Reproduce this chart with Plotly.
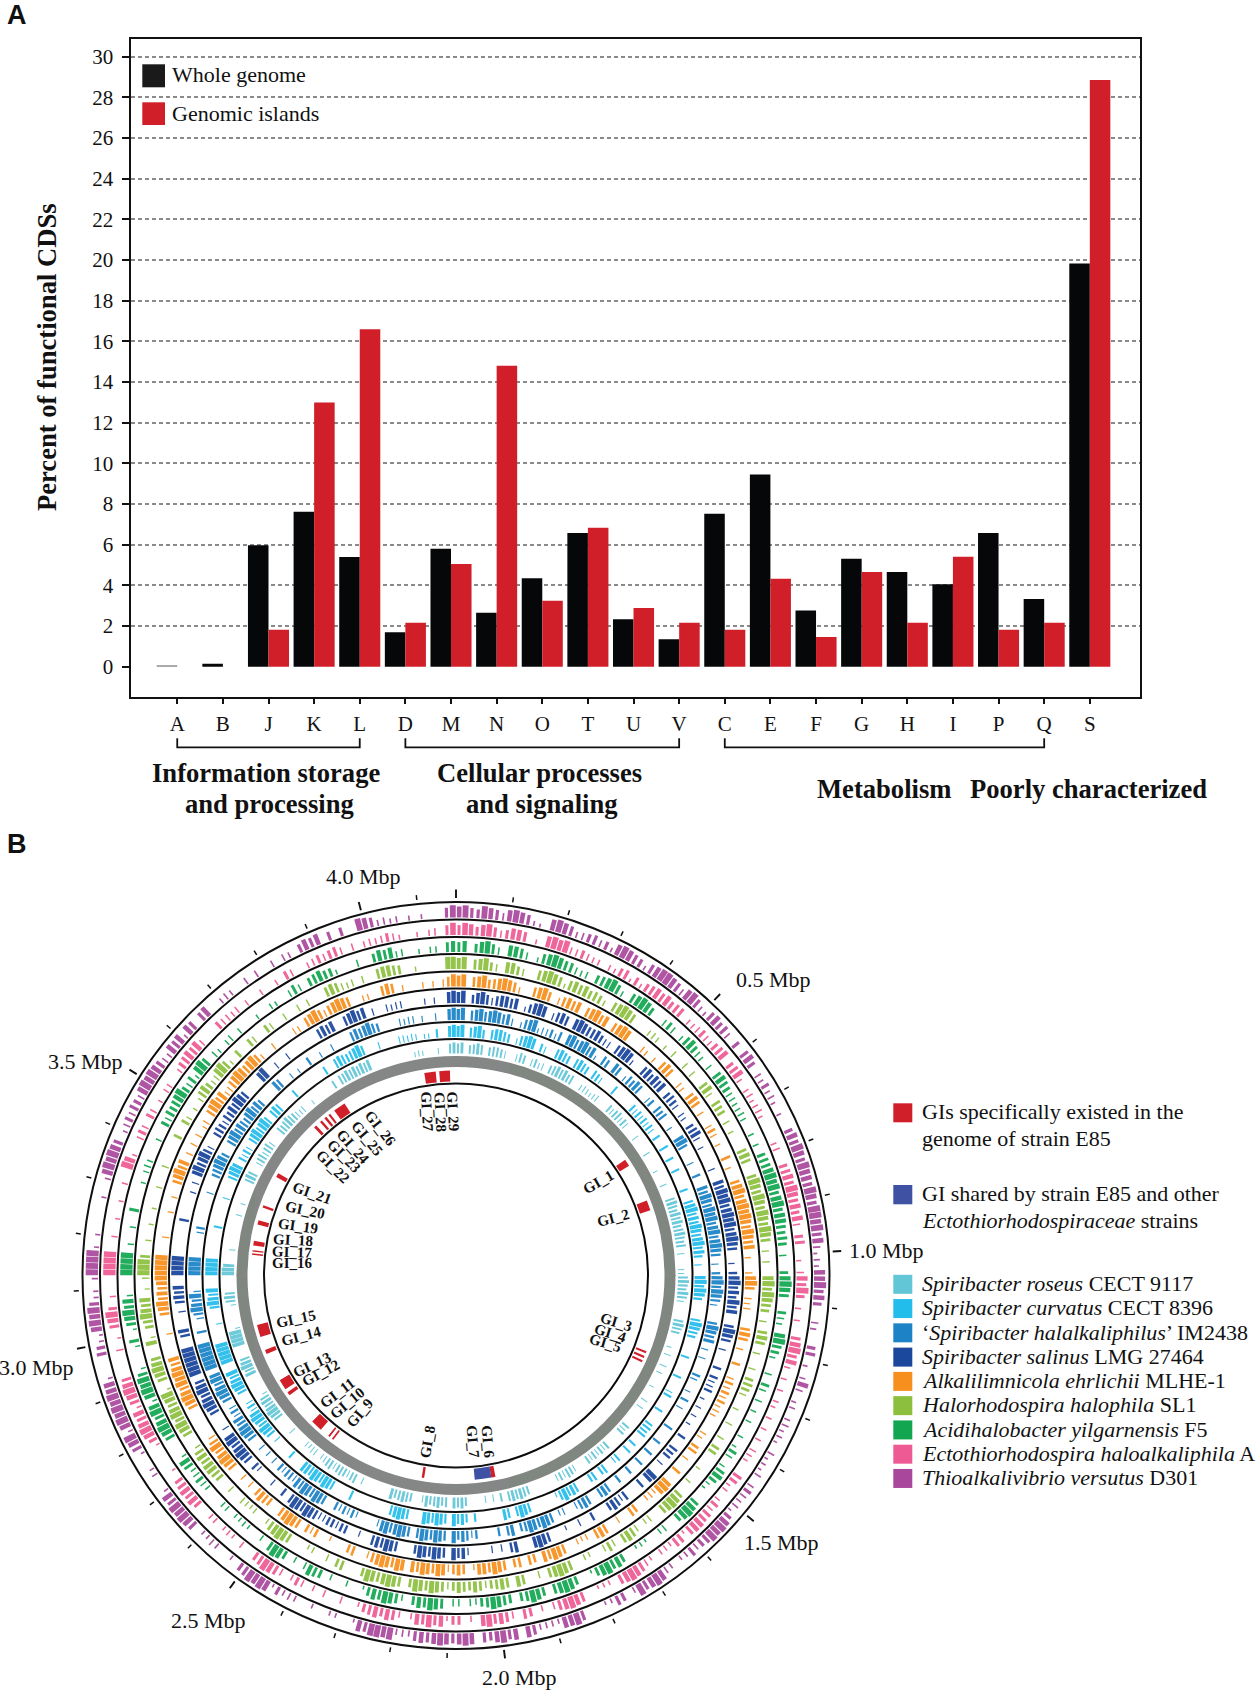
import plotly.graph_objects as go

W, H = 1256, 1693
SERIF = "Liberation Serif"

# ---------- panel A data ----------
COG = ["A","B","J","K","L","D","M","N","O","T","U","V","C","E","F","G","H","I","P","Q","S"]
WHOLE = [0.05,0.15,5.98,7.62,5.39,1.69,5.8,2.65,4.35,6.58,2.34,1.35,7.52,9.45,2.76,5.31,4.66,4.06,6.58,3.33,19.83]
ISLANDS = [0,0,1.82,13.0,16.6,2.16,5.05,14.8,3.25,6.84,2.89,2.16,1.82,4.32,1.46,4.66,2.16,5.41,1.82,2.16,28.86]
Y_TICKS = list(range(0, 31, 2))

# ---------- panel B data: per-degree track height (0-9), one string per 10 degrees ----------
TEAL = ["7806787067","7650057605","6450678786","7004543450","0065675650","0050000500","0030005000","7876878678","7670500044","7876875000","0787600030","5005040003","0005050000","0656000065","6565600056","7565000000","0678787060","5050000687","8076876850","0678768000","0000507656","7657654055","3400005000","0789878730","0000879870","0099993000","0037870000","9980004000","0000040030","0000787005","6756750007","6787654500","3000000607","7878787800","0000000003","4300040078"]
SKY = ["8907896078","8760478980","6500787607","8760765000","7000006565","6565060070","0600600006","0078978798","7897860500","8979860000","7987600006","0000600056","0006000676","7006070065","0076076000","7879730000","0078970780","0000060687","9078978900","0789870000","0000070000","7897897880","0060000507","8978985650","0789879009","9999000040","0079879000","9999000000","0600000050","0007898065","6507897897","0787000060","0000000600","7876789700","0500005545","4033060089"]
BLUE = ["8907897898","7850478935","5647089789","7830760870","4768700560","7670040089","7000500600","8798798978","9789870506","8979875000","7987805050","0065004060","5000070006","0070070060","0600787007","8750054078","9789760870","6000065786","9078978970","7898798500","0046565600","7897897856","6560504050","0789878565","0789879809","9999900700","5798795000","9999000005","6000000050","0067898600","7897876897","8600008700","4030060040","0500007878","9760000545","5040050089"]
NAVY = ["8906897578","8780368980","5787089877","8655078984","0078687806","7650540678","5040000500","8798978989","7898700406","8978697800","7987050006","0655603040","4030060076","6050098070","0075786000","6005003000","7898000870","5050000587","9078978960","0078978700","4006656655","7897897060","0500046078","9879805000","7898798709","9999900780","0050787800","9999000000","0700000405","0897897500","6765768798","7000089005","0050000000","7878007897","8050054550","0004040089"]
ORANGE = ["8907896789","8740078970","5787807897","8078980005","4040787005","4078705005","6504007040","0789789898","7987804005","8970545000","7870500600","5656564540","0054067050","0700898454","0067005007","8704340078","9780670760","7897884078","7589789780","8978987500","7600030065","6078987006","7860505007","8987975000","0007898798","9878000040","0078978789","9999000500","0040040078","9780505050","3507897845","7898789740","0500005407","8975789870","0440078704","0004040579"]
LIME = ["8907896508","8650078987","3787867640","7898700045","4030500505","0078507660","5040007870","0798798798","7987050500","8979876050","7870500506","7650040050","0506600030","0400789870","0540578705","7500340078","9870500780","7876578678","6578978960","7898789600","0760500430","0078987400","4345005006","7887874007","8979878920","7898700830","6798780305","9997004003","0030004000","5000006006","4030478645","8973060065","0065005005","0500078754","5050078876","0030000099"]
GREEN = ["7806897508","8750378987","7545067897","4078986005","6504786540","5078765544","5400404067","7898978978","8767605006","8987006540","8976400506","5050404004","0365047863","2007898600","5400232006","8798620068","9870689760","6789764505","5078978604","7897862004","0040678504","0689704003","4330440004","5654783000","7898798389","8973000370","2789784000","9999040040","0700003045","4000400657","6789657389","7053045040","0030043005","7506786630","0050068784","5003044078"]
PINK = ["7986897568","8703089895","5654404367","2636787867","7044565467","8067840453","4530000450","0678798786","8506700305","8796040400","7897840404","0430404040","5430076340","4657788727","7344035789","8703320078","9875040670","5787980406","6387978404","7868763005","0050405640","5789760050","3430440068","7876020000","2689878378","9870000502","0789604000","9999004003","0030040098","3005650650","3044004678","7850006554","5040040040","6500456567","5050454565","3003045079"]
PURPLE = ["8976987589","8732089874","5675638987","6378998758","9743786750","6078605464","5303006879","8798879879","9897852438","8978600540","0670304850","3404534205","2325056545","2689897657","4304589879","4067320007","9883444780","8798670898","7898787454","9899782003","3003004546","2898976030","0453307898","9783004300","2789389898","9883000763","2898973304","9999303000","0030048989","8703565765","8989875487","8387078004","5400505005","0540687806","0600987453","4030300079"]

SPECIES = [
    ("<i>Spiribacter roseus</i> CECT 9117", "#62C6D6", TEAL),
    ("<i>Spiribacter curvatus</i> CECT 8396", "#22BDEB", SKY),
    ("‘<i>Spiribacter halalkaliphilus</i>’ IM2438", "#1D82C6", BLUE),
    ("<i>Spiribacter salinus</i> LMG 27464", "#1B479C", NAVY),
    ("<i>Alkalilimnicola ehrlichii</i> MLHE-1", "#F78F1E", ORANGE),
    ("<i>Halorhodospira halophila</i> SL1", "#8DBF3F", LIME),
    ("<i>Acidihalobacter yilgarnensis</i> F5", "#12A651", GREEN),
    ("<i>Ectothiorhodospira haloalkaliphila</i> A", "#EE5A93", PINK),
    ("<i>Thioalkalivibrio versutus</i> D301", "#A9479D", PURPLE),
]
TRACK_BASES = [222, 238.5, 255.5, 272.5, 289, 306.5, 323.5, 340.5, 358]
GENOME_MBP = 4.169
MBP_TICKS = [round(i * 0.1, 1) for i in range(42)]
MBP_MAJOR = [0.0, 0.5, 1.0, 1.5, 2.0, 2.5, 3.0, 3.5, 4.0]
MBP_LABELS = ["0.5 Mbp", "1.0 Mbp", "1.5 Mbp", "2.0 Mbp", "2.5 Mbp", "3.0 Mbp", "3.5 Mbp", "4.0 Mbp"]

GI_THETA = [56.6,70,112,113.4,114.7,169.5,189.3,217,218.3,222.9,234.8,237.8,248.1,254.3,276,276.9,279.1,285,289.7,299.3,316.6,318.8,320.4,321.8,325.3,352.7,356.8]
GI_WIDTH = [2,2.9,0.6,0.6,0.6,1.2,0.7,0.5,0.5,3.3,1,3,1.2,3.5,0.4,0.4,1.3,1.2,0.7,1.2,0.8,0.7,0.7,0.6,3.5,3.2,3]
SHARED_THETA = [172.4]
SHARED_WIDTH = [4.7]
RING_RADII = [192, 236.5, 253.5, 270, 287, 304, 321.5, 338.5, 356, 373.5]
GI_LABELS = [("GI_1",1105,395,-30),("GI_2",1150,505,-15),("GI_3",1158,815,17),("GI_4",1140,848,17),("GI_5",1127,880,17),
             ("GI_6",775,1175,85),("GI_7",730,1175,85),("GI_8",592,1175,-80),("GI_9",390,1090,-50),("GI_10",352,1058,-40),
             ("GI_11",322,1030,-37),("GI_12",272,970,-28),("GI_13",245,945,-25),("GI_14",215,858,-15),("GI_15",197,808,-12),
             ("GI_16",188,640,0),("GI_17",187,607,2),("GI_18",188,570,3),("GI_19",203,527,8),("GI_20",225,480,12),("GI_21",245,430,20),
             ("GI_22",310,350,45),("GI_23",342,318,45),("GI_24",370,290,48),("GI_25",410,265,50),("GI_26",450,235,52),
             ("GI_27",592,185,87),("GI_28",632,185,87),("GI_29",670,185,87)]

fx = lambda x: x / W
fy = lambda y: 1 - y / H

fig = go.Figure()

# ---------- panel A ----------
fig.add_bar(x=COG, y=WHOLE, name="Whole genome", marker_color=["#AAAAAA"] + ["#050708"] * 20, marker_line_width=0)
fig.add_bar(x=COG, y=ISLANDS, name="Genomic islands", marker_color="#D01F29", marker_line_width=0)

XL, XR, YT, YB = 130.7, 1140, 39, 696.7
y0, unit = 666.7, 20.33
fig.update_layout(
    width=W, height=H, autosize=False, margin=dict(l=0, r=0, t=0, b=0),
    paper_bgcolor="white", plot_bgcolor="white", showlegend=False,
    barmode="group", bargap=0.1, bargroupgap=0,
    font=dict(family=SERIF, color="#111", size=20),
    xaxis=dict(domain=[fx(XL), fx(XR)], type="category", categoryorder="array", categoryarray=COG,
               range=[-1.02, 21.1], showline=True, mirror=True, linecolor="#111", linewidth=2.4,
               ticks="outside", ticklen=5, tickwidth=1.6, tickcolor="#111", showgrid=False,
               tickfont=dict(size=21), ticklabelstandoff=2),
    yaxis=dict(domain=[fy(YB), fy(YT)], range=[-(YB - y0) / unit, (y0 - YT) / unit],
               tickvals=Y_TICKS, showline=True, mirror=True, linecolor="#111", linewidth=2.4,
               ticks="outside", ticklen=7, tickwidth=1.6, tickcolor="#111",
               showgrid=True, gridcolor="#8A8A8A", gridwidth=1.8, griddash="4px,3px",
               zeroline=True, zerolinecolor="rgba(0,0,0,0)", tickfont=dict(size=21), ticklabelstandoff=4),
)

ann = []
def text(x, y, s, size=21, anchor="left", angle=0, family=SERIF):
    ann.append(dict(x=fx(x), y=fy(y), xref="paper", yref="paper", text=s, showarrow=False,
                    xanchor=anchor, yanchor="middle", textangle=angle,
                    font=dict(size=size, family=family, color="#111")))

shapes = []
def square(x0, y0_, x1, y1, color):
    shapes.append(dict(type="rect", xref="paper", yref="paper", x0=fx(x0), x1=fx(x1), y0=fy(y1), y1=fy(y0_),
                       fillcolor=color, line_width=0))

text(5, 15, "<b>A</b>", 27, family="Liberation Sans")
text(5, 844, "<b>B</b>", 27, family="Liberation Sans")
text(47, 357, "<b>Percent of functional CDSs</b>", 26.6, "center", -90)
square(142.3, 64.3, 165, 87.3, "#1A1A1A")
square(142.3, 102.3, 165, 125, "#D01F29")
text(170, 75, "Whole genome", 22)
text(170, 113, "Genomic islands", 22)
for line, x, y in [("Information storage", 265.8, 773), ("and processing", 269, 804),
                   ("Cellular processes", 539, 773), ("and signaling", 542, 804),
                   ("Metabolism", 884, 789), ("Poorly characterized", 1088.5, 789)]:
    text(x, y, f"<b>{line}</b>", 26.6, "center")
for a, b in [("A", "L"), ("D", "V"), ("C", "Q")]:
    ia, ib = COG.index(a), COG.index(b)
    yb0, yb1 = fy(738.3), fy(747.3)
    shapes.append(dict(type="path", xref="x", yref="paper", line=dict(color="#111", width=1.8),
                       path=f"M {ia} {yb0} L {ia} {yb1} L {ib} {yb1} L {ib} {yb0}"))

# ---------- panel B ----------
CX, CY, R = 456, 1275.5, 392
TICK_THETA = [m * 360 / GENOME_MBP for m in MBP_TICKS]
def bar_width(d):
    return 0.26 if d <= 5 else (0.5 if d <= 7 else (0.72 if d == 8 else 0.92))

fig.add_barpolar(theta=[45, 135, 225, 315], r=[11] * 4, base=208.5, width=[90.2] * 4,
                 marker_color="#858786", marker_line_width=0, hoverinfo="skip")
for (name, color, groups), base in zip(SPECIES, TRACK_BASES):
    th, rr, ww = [], [], []
    for i, g in enumerate(groups):
        for j, c in enumerate(g):
            if c != "0":
                d = int(c)
                th.append(10 * i + j + 0.5)
                rr.append(1.5 + d * 1.2)
                ww.append(bar_width(d))
    fig.add_barpolar(theta=th, r=rr, base=base, width=ww, name=name, opacity=0.92,
                     marker_color=color, marker_line_width=0)
fig.add_barpolar(theta=GI_THETA, r=[11] * len(GI_THETA), base=194, width=GI_WIDTH,
                 marker_color="#D01F29", marker_line_width=0, name="GIs")
fig.add_barpolar(theta=SHARED_THETA, r=[11], base=194, width=SHARED_WIDTH,
                 marker_color="#3F51A3", marker_line_width=0, name="Shared GI")

def segs(thetas, r0, r1):
    r, t = [], []
    for a in thetas:
        r += [r0, r1, None]
        t += [a, a, None]
    return r, t

minor = [t for t, m in zip(TICK_THETA, MBP_TICKS) if m not in MBP_MAJOR]
major = [t for t, m in zip(TICK_THETA, MBP_TICKS) if m in MBP_MAJOR]
r_, t_ = segs(minor, 377.5, 382.5)
fig.add_scatterpolar(r=r_, theta=t_, mode="lines", line=dict(color="#111", width=1.5), cliponaxis=False, hoverinfo="skip")
r_, t_ = segs(major, 377.5, 386)
fig.add_scatterpolar(r=r_, theta=t_, mode="lines", line=dict(color="#111", width=1.9), cliponaxis=False, hoverinfo="skip")

fig.update_layout(polar=dict(
    domain=dict(x=[fx(CX - R), fx(CX + R)], y=[fy(CY + R), fy(CY - R)]),
    bgcolor="white",
    radialaxis=dict(range=[0, R], visible=True, showline=False, showticklabels=False, ticks="",
                    tickvals=RING_RADII, showgrid=True, gridcolor="#111", gridwidth=1.5),
    angularaxis=dict(rotation=90, direction="clockwise", showgrid=False, showline=False,
                     ticks="", showticklabels=False),
))

for lab, (x, y) in zip(MBP_LABELS, [(773.4,979.2),(886,1250),(781.7,1542),(519,1677.5),(208.4,1620.5),(36.8,1367.5),(85,1061.5),(363,876.6)]):
    text(x, y, lab, 22, "center")

for name, zx, zy, ang in GI_LABELS:
    text(230 + zx / 3, 1050 + zy / 3, f"<b>{name}</b>", 15, "center", ang)

# right-hand key
square(893.3, 1103.3, 912.3, 1122.3, "#D01F29")
text(919.5, 1111, "GIs specifically existed in the", 22)
text(919.5, 1138, "genome of strain E85", 22)
square(893.3, 1185, 912.3, 1204.3, "#3F51A3")
text(919.5, 1193.3, "GI shared by strain E85 and other", 22)
text(919.5, 1220, "<i>Ectothiorhodospiraceae</i> strains", 22)
for i, (name, color, _) in enumerate(SPECIES):
    yc = 1284.3 + i * 24.27
    square(893.3, yc - 9.5, 912.3, yc + 9.5, color)
    text(919.5, yc - 0.8, name, 22)

fig.update_layout(annotations=ann, shapes=shapes)
fig.write_html("out.html", post_script="document.body.style.margin='0';", config={"displayModeBar": False})
